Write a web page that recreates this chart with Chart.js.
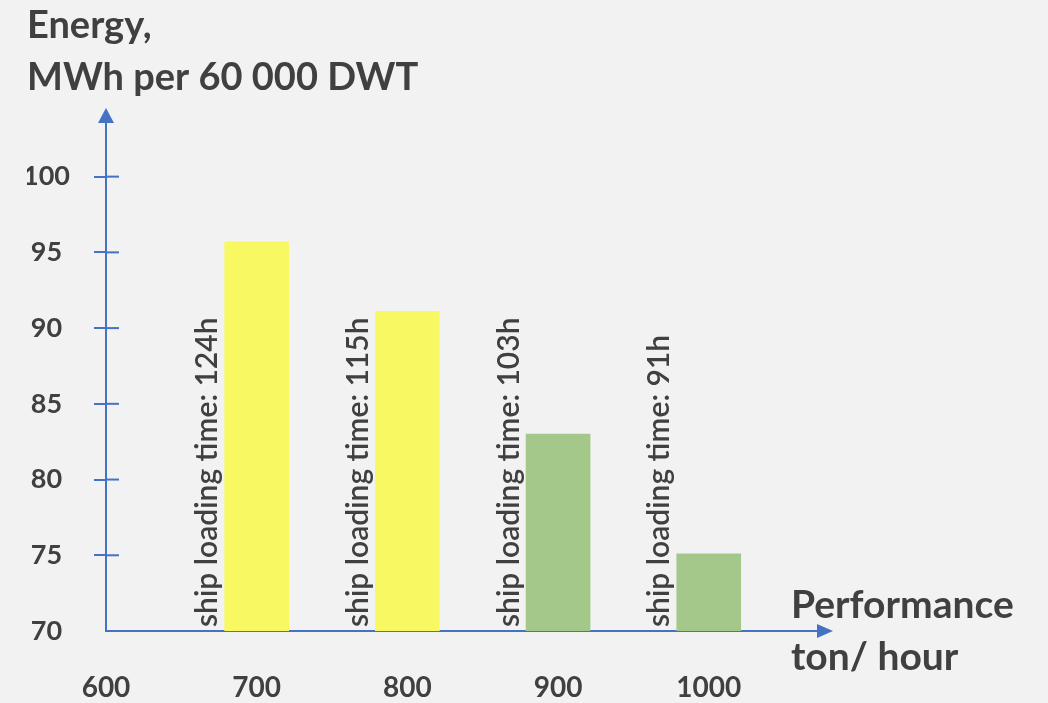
<!DOCTYPE html>
<html>
<head>
<meta charset="utf-8">
<script src="https://cdn.jsdelivr.net/npm/chart.js@4.4.0/dist/chart.umd.min.js"></script>
<style>
  html, body { margin: 0; padding: 0; background: #f2f2f2; }
</style>
</head>
<body>
<canvas id="myChart" width="1048" height="703"></canvas>
<script>
"use strict";
// Data
const performance = [700, 800, 900, 1000];
const energy = [95.7, 91.1, 83.0, 75.1];
const loadingTimes = ["124h", "115h", "103h", "91h"];
const barColors = ["#f8f962", "#f8f962", "#a4c78a", "#a4c78a"];
const xTicks = [600, 700, 800, 900, 1000];
const yTicks = [70, 75, 80, 85, 90, 95, 100];

const BLUE = "#4472c4";
const TEXT = "#404040";

// arrows, inner tick stubs, rotated bar notes, x axis caption
const axisDecor = {
    id: "axisDecor",
    afterDraw(chart) {
        const { ctx, chartArea: a } = chart;
        const y = chart.scales.y;
        ctx.save();
        ctx.strokeStyle = BLUE;
        ctx.lineWidth = 2;
        y.ticks.forEach((t) => {
            if (t.value === 70) return;
            const py = y.getPixelForValue(t.value);
            ctx.beginPath();
            ctx.moveTo(a.left, py);
            ctx.lineTo(a.left + 13, py);
            ctx.stroke();
        });
        ctx.fillStyle = BLUE;
        ctx.beginPath();
        ctx.moveTo(a.left, a.top - 14);
        ctx.lineTo(a.left - 8, a.top + 1);
        ctx.lineTo(a.left + 8, a.top + 1);
        ctx.fill();
        ctx.beginPath();
        ctx.moveTo(a.right + 15, a.bottom);
        ctx.lineTo(a.right - 1, a.bottom - 7);
        ctx.lineTo(a.right - 1, a.bottom + 7);
        ctx.fill();

        ctx.fillStyle = TEXT;
        ctx.font = "600 30px Lato";
        const meta = chart.getDatasetMeta(0);
        meta.data.forEach((bar, i) => {
            const left = bar.x - bar.width / 2;
            ctx.save();
            ctx.translate(left - 2, a.bottom - 4);
            ctx.rotate(-Math.PI / 2);
            ctx.textAlign = "left";
            ctx.textBaseline = "bottom";
            ctx.fillText("ship loading time: " + loadingTimes[i], 0, 0);
            ctx.restore();
        });

        ctx.font = "bold 39px Lato";
        ctx.textAlign = "left";
        ctx.textBaseline = "alphabetic";
        ctx.fillText("Performance", 791, 618);
        ctx.fillText("ton/ hour", 791, 670);
        ctx.restore();
    },
};

const data = {
    datasets: [
        {
            label: "Energy",
            data: performance.map((p, i) => ({ x: p, y: energy[i] })),
            backgroundColor: barColors,
            barThickness: 64,
        },
    ],
};

const config = {
    type: "bar",
    data: data,
    plugins: [axisDecor],
    options: {
        responsive: false,
        animation: false,
        layout: { padding: { left: 27, right: 230, top: 0, bottom: 0 } },
        scales: {
            x: {
                type: "linear",
                offset: false,
                min: 600,
                max: 1072.5,
                afterBuildTicks: (s) => { s.ticks = xTicks.map((v) => ({ value: v })); },
                afterFit: (s) => { s.height = 72; },
                grid: { display: false, drawTicks: false, offset: false },
                border: { color: BLUE, width: 2 },
                ticks: {
                    padding: 40,
                    color: TEXT,
                    font: { family: "Lato", weight: "bold", size: 28 },
                    callback: (v) => String(v),
                },
            },
            y: {
                min: 70,
                max: 103.6,
                afterBuildTicks: (s) => { s.ticks = yTicks.map((v) => ({ value: v })); },
                afterFit: (s) => { s.width = 79; },
                grid: {
                    drawOnChartArea: false,
                    drawTicks: true,
                    tickLength: 12,
                    lineWidth: 2,
                    color: (c) => (c.tick && c.tick.value === 70 ? "rgba(0,0,0,0)" : BLUE),
                },
                border: { color: BLUE, width: 2 },
                ticks: {
                    crossAlign: "center",
                    padding: 24,
                    color: TEXT,
                    font: { family: "Lato", weight: "bold", size: 27 },
                    callback: (v) => String(v),
                },
            },
        },
        plugins: {
            legend: { display: false },
            tooltip: { enabled: false },
            title: {
                display: true,
                align: "start",
                text: ["Energy,", "MWh per 60 000 DWT"],
                color: TEXT,
                font: { family: "Lato", weight: "bold", size: 38, lineHeight: 1.37 },
                padding: { top: 0, bottom: 18 },
            },
        },
    },
};

const myChart = new Chart(document.getElementById("myChart"), config);
</script>
</body>
</html>
